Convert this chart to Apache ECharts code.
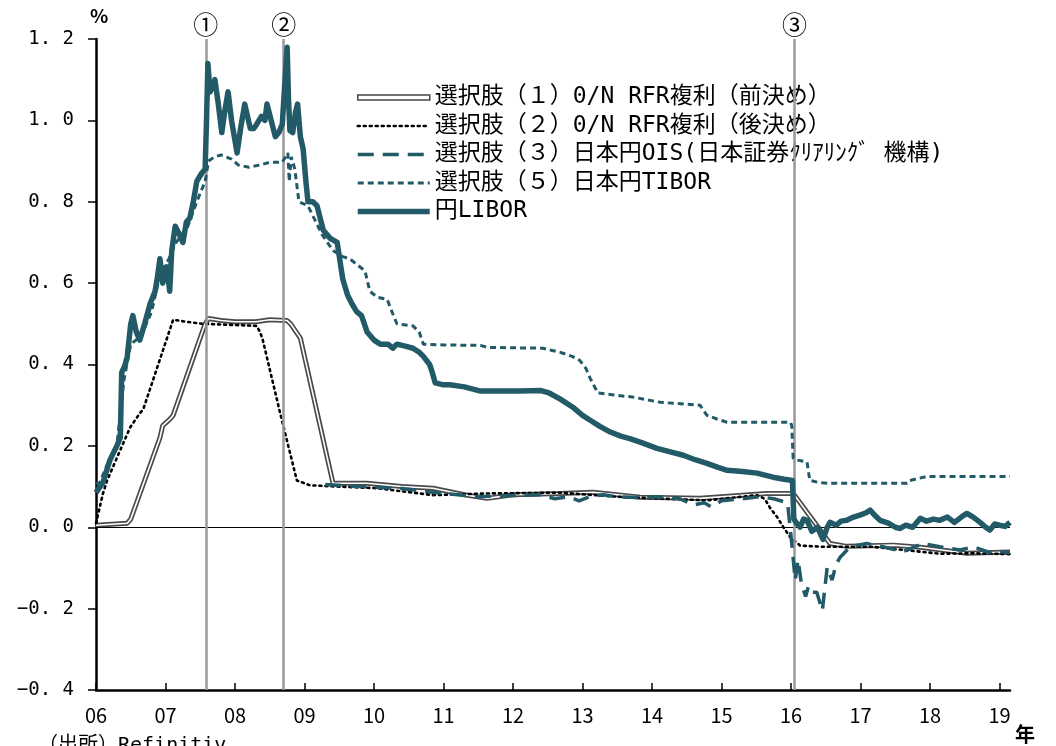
<!DOCTYPE html>
<html>
<head>
<meta charset="utf-8">
<script src="https://cdn.jsdelivr.net/npm/echarts@6/dist/echarts.min.js"></script>
<style>
  html, body { margin: 0; padding: 0; background: #fff; }
  #main { width: 1056px; height: 746px; }
</style>
</head>
<body>
<div id="main"></div>
<script>
// series values as [year, %]
const libor = [
  [2006.00,0.085],[2006.10,0.11],[2006.20,0.165],[2006.30,0.20],[2006.35,0.22],[2006.37,0.38],[2006.42,0.40],
  [2006.45,0.42],[2006.50,0.50],[2006.53,0.52],[2006.58,0.48],[2006.63,0.46],[2006.70,0.50],[2006.78,0.55],
  [2006.85,0.58],[2006.88,0.61],[2006.92,0.66],[2006.96,0.60],[2007.02,0.64],[2007.06,0.58],[2007.09,0.68],
  [2007.14,0.74],[2007.20,0.72],[2007.25,0.70],[2007.30,0.75],[2007.35,0.76],[2007.40,0.80],[2007.45,0.85],
  [2007.52,0.87],[2007.57,0.88],[2007.59,1.00],[2007.61,1.14],[2007.64,1.07],[2007.67,1.08],[2007.71,1.10],
  [2007.76,1.04],[2007.81,0.97],[2007.85,1.02],[2007.90,1.07],[2007.95,1.00],[2008.00,0.95],[2008.03,0.92],
  [2008.08,0.98],[2008.14,1.04],[2008.18,1.01],[2008.22,0.98],[2008.27,0.98],[2008.31,0.99],[2008.38,1.01],
  [2008.43,1.00],[2008.46,1.04],[2008.52,1.00],[2008.58,0.96],[2008.63,0.97],[2008.68,0.99],[2008.72,1.10],
  [2008.75,1.18],[2008.77,1.05],[2008.79,0.975],[2008.83,0.97],[2008.87,1.02],[2008.90,1.04],[2008.94,0.96],
  [2008.98,0.93],[2009.02,0.85],[2009.05,0.80],[2009.12,0.80],[2009.18,0.79],[2009.27,0.73],[2009.37,0.71],
  [2009.47,0.70],[2009.55,0.61],[2009.62,0.57],[2009.68,0.55],[2009.75,0.53],[2009.82,0.52],[2009.90,0.48],
  [2010.00,0.46],[2010.09,0.45],[2010.20,0.45],[2010.27,0.44],[2010.33,0.45],[2010.45,0.445],[2010.56,0.44],
  [2010.65,0.43],[2010.71,0.42],[2010.80,0.40],[2010.83,0.385],[2010.88,0.355],[2011.00,0.35],[2011.09,0.35],
  [2011.30,0.345],[2011.52,0.335],[2011.80,0.335],[2012.10,0.335],[2012.40,0.336],[2012.52,0.33],[2012.68,0.315],
  [2012.86,0.295],[2013.00,0.275],[2013.11,0.263],[2013.25,0.248],[2013.40,0.234],[2013.55,0.224],[2013.68,0.218],
  [2013.85,0.208],[2014.07,0.194],[2014.25,0.186],[2014.45,0.177],[2014.62,0.166],[2014.79,0.157],[2014.95,0.147],
  [2015.08,0.14],[2015.30,0.137],[2015.51,0.133],[2015.74,0.123],[2015.90,0.118],[2016.02,0.115],[2016.04,0.02],
  [2016.08,0.01],[2016.13,0.0],[2016.18,0.02],[2016.23,0.017],[2016.30,-0.01],[2016.38,0.0],[2016.46,-0.03],
  [2016.52,0.0],[2016.56,0.012],[2016.65,0.005],[2016.72,0.015],[2016.80,0.017],[2016.90,0.025],[2016.99,0.03],
  [2017.07,0.035],[2017.14,0.042],[2017.20,0.03],[2017.28,0.017],[2017.40,0.01],[2017.50,0.0],[2017.57,-0.003],
  [2017.65,0.005],[2017.75,0.0],[2017.86,0.022],[2017.95,0.015],[2018.05,0.02],[2018.14,0.017],[2018.25,0.025],
  [2018.35,0.012],[2018.45,0.025],[2018.53,0.034],[2018.62,0.025],[2018.72,0.012],[2018.80,0.0],[2018.86,-0.007],
  [2018.93,0.008],[2019.00,0.005],[2019.08,0.002],[2019.15,0.012]
];
const tibor = [
  [2006.00,0.108],[2006.05,0.108],[2006.15,0.15],[2006.30,0.20],[2006.40,0.36],[2006.50,0.45],[2006.65,0.47],
  [2006.80,0.53],[2006.92,0.62],[2007.05,0.66],[2007.15,0.70],[2007.30,0.73],[2007.45,0.80],[2007.57,0.85],
  [2007.62,0.90],[2007.70,0.91],[2007.80,0.915],[2007.95,0.905],[2008.05,0.89],[2008.20,0.885],[2008.35,0.89],
  [2008.50,0.897],[2008.68,0.897],[2008.76,0.92],[2008.78,0.85],[2008.81,0.91],[2008.86,0.88],[2008.92,0.80],
  [2009.05,0.79],[2009.25,0.72],[2009.41,0.68],[2009.55,0.665],[2009.65,0.66],[2009.87,0.63],[2009.94,0.58],
  [2010.05,0.565],[2010.19,0.56],[2010.28,0.52],[2010.33,0.50],[2010.56,0.495],[2010.65,0.48],[2010.71,0.45],
  [2011.00,0.448],[2011.53,0.447],[2011.63,0.442],[2012.43,0.44],[2012.55,0.435],[2012.68,0.43],[2012.85,0.42],
  [2012.96,0.41],[2013.05,0.39],[2013.11,0.366],[2013.22,0.33],[2013.45,0.325],[2013.72,0.32],[2014.12,0.307],
  [2014.69,0.30],[2014.75,0.285],[2014.79,0.275],[2014.95,0.265],[2015.08,0.258],[2015.99,0.258],[2016.01,0.25],
  [2016.03,0.17],[2016.10,0.165],[2016.23,0.16],[2016.27,0.115],[2016.40,0.11],[2016.52,0.108],[2017.67,0.108],
  [2017.71,0.115],[2017.96,0.125],[2019.15,0.125]
];
const ois = [
  [2009.30,0.105],[2009.80,0.10],[2010.40,0.095],[2010.90,0.085],[2011.50,0.075],[2012.00,0.078],[2012.40,0.08],
  [2012.60,0.07],[2012.80,0.075],[2012.95,0.065],[2013.10,0.075],[2013.30,0.08],[2013.50,0.075],[2013.80,0.073],
  [2014.10,0.075],[2014.40,0.07],[2014.60,0.055],[2014.75,0.06],[2014.85,0.05],[2015.00,0.065],[2015.30,0.07],
  [2015.55,0.075],[2015.75,0.07],[2015.95,0.06],[2016.01,-0.04],[2016.06,-0.13],[2016.10,-0.08],[2016.15,-0.14],
  [2016.21,-0.17],[2016.25,-0.145],[2016.30,-0.16],[2016.37,-0.16],[2016.45,-0.205],[2016.52,-0.098],
  [2016.59,-0.13],[2016.65,-0.09],[2016.71,-0.073],[2016.85,-0.048],[2017.09,-0.04],[2017.32,-0.048],
  [2017.61,-0.06],[2017.90,-0.04],[2018.14,-0.048],[2018.43,-0.056],[2018.62,-0.048],[2018.91,-0.065],
  [2019.00,-0.06],[2019.15,-0.062]
];
const rfrBefore = [
  [2006.00,0.005],[2006.45,0.01],[2006.50,0.02],[2006.92,0.22],[2006.96,0.25],[2007.06,0.265],[2007.11,0.275],
  [2007.57,0.50],[2007.62,0.513],[2007.80,0.508],[2008.00,0.505],[2008.30,0.505],[2008.50,0.51],[2008.75,0.508],
  [2008.80,0.50],[2008.94,0.465],[2009.41,0.108],[2009.90,0.108],[2010.40,0.10],[2010.85,0.096],[2011.30,0.08],
  [2011.63,0.071],[2012.00,0.08],[2012.68,0.083],[2013.15,0.086],[2013.83,0.074],[2014.69,0.071],[2015.65,0.083],
  [2016.00,0.083],[2016.05,0.079],[2016.23,0.037],[2016.42,-0.007],[2016.56,-0.04],[2016.80,-0.047],
  [2017.47,-0.044],[2017.86,-0.049],[2018.53,-0.064],[2019.15,-0.061]
];
const rfrAfter = [
  [2006.00,0.01],[2006.10,0.083],[2006.16,0.115],[2006.35,0.19],[2006.49,0.245],[2006.63,0.28],[2006.68,0.29],
  [2007.11,0.51],[2007.30,0.505],[2007.54,0.50],[2008.31,0.495],[2008.36,0.48],[2008.40,0.46],[2008.65,0.28],
  [2008.89,0.115],[2009.08,0.103],[2010.04,0.096],[2010.85,0.079],[2011.63,0.083],[2012.68,0.085],[2013.50,0.075],
  [2014.79,0.066],[2015.51,0.079],[2015.62,0.07],[2015.70,0.047],[2015.80,0.025],[2015.89,0.0],[2015.99,-0.025],
  [2016.13,-0.045],[2016.45,-0.048],[2017.17,-0.048],[2018.14,-0.065],[2018.62,-0.064],[2019.15,-0.066]
];
const events = [[2007.58, '①'], [2008.70, '②'], [2016.05, '③']];
const names = [
  '選択肢（１）0/N RFR複利（前決め）',
  '選択肢（２）0/N RFR複利（後決め）',
  '選択肢（３）日本円OIS(日本証券ｸﾘｱﾘﾝｸﾞ 機構)',
  '選択肢（５）日本円TIBOR',
  '円LIBOR'
];

const teal = '#225a68';
const font = '"DejaVu Sans Mono", "Noto Sans CJK JP", monospace';
const cjk = '"Noto Sans CJK JP", sans-serif';

let chart = echarts.init(document.getElementById('main'));
let option = {
  animation: false,
  backgroundColor: '#fff',
  textStyle: { fontFamily: font },
  grid: { left: 96, right: 46, top: 39, bottom: 56 },
  xAxis: {
    type: 'value',
    min: 2006,
    max: 2019.15,
    interval: 1,
    axisLine: { onZero: false, lineStyle: { color: '#000', width: 2.5 } },
    axisTick: { inside: true, length: 7, lineStyle: { color: '#000', width: 1.5 } },
    axisLabel: {
      margin: 15, fontSize: 20, color: '#000', fontFamily: cjk,
      showMaxLabel: false,
      formatter: v => Number.isInteger(v) ? String(v).slice(2) : ''
    },
    splitLine: { show: false }
  },
  yAxis: {
    type: 'value',
    min: -0.4,
    max: 1.2,
    interval: 0.2,
    axisLine: { show: true, lineStyle: { color: '#000', width: 2.5 } },
    axisTick: { show: true, length: 8, lineStyle: { color: '#000', width: 1.5 } },
    axisLabel: {
      margin: 22, fontSize: 19, color: '#000', fontFamily: font,
      formatter: v => v.toFixed(1).replace('.', '. ').replace('-', '−')
    },
    splitLine: { show: false }
  },
  legend: {
    orient: 'vertical',
    left: 351,
    top: 76,
    padding: [10, 20, 2, 4],
    backgroundColor: '#fff',
    itemWidth: 72,
    itemHeight: 14,
    itemGap: 5.5,
    itemStyle: { opacity: 0 },
    textStyle: { fontSize: 23, lineHeight: 22, color: '#000', fontFamily: font },
    data: [
      { name: names[0], icon: 'path://M0,0L72,0L72,5L0,5Z', itemStyle: { opacity: 1, color: '#fff', borderColor: '#444', borderWidth: 1.5 } },
      { name: names[1], lineStyle: { width: 2.6 } },
      { name: names[2], lineStyle: { width: 3.5 } },
      { name: names[3], lineStyle: { width: 3 } },
      { name: names[4], lineStyle: { width: 5.5 } }
    ]
  },
  graphic: [
    { type: 'text', left: 90, top: 6, style: { text: '%', fontSize: 19, fontWeight: 'bold', fill: '#000', fontFamily: cjk } },
    { type: 'text', left: 1015, top: 724, style: { text: '年', fontSize: 20, fontWeight: 'bold', fill: '#000', fontFamily: cjk } },
    { type: 'text', left: 38, top: 736, style: { text: '（出所）Refinitiv', fontSize: 20, fill: '#000', fontFamily: font } }
  ],
  series: [
    {
      name: names[0], type: 'line', data: rfrBefore, symbol: 'none', z: 3,
      lineStyle: { color: '#4a4a4a', width: 5 }, itemStyle: { color: '#4a4a4a' },
      markLine: {
        silent: true, symbol: 'none',
        label: { show: false },
        lineStyle: { color: '#000', width: 1, type: 'solid' },
        data: [{ yAxis: 0 }]
      }
    },
    {
      name: 'rfrBeforeInner', type: 'line', data: rfrBefore, symbol: 'none', z: 3,
      lineStyle: { color: '#fff', width: 1.6 }
    },
    {
      name: names[1], type: 'line', data: rfrAfter, symbol: 'none', z: 4,
      lineStyle: { color: '#000', width: 2.6, type: [2, 4], cap: 'round' }, itemStyle: { color: '#000' }
    },
    {
      name: names[2], type: 'line', data: ois, symbol: 'none', z: 5,
      lineStyle: { color: teal, width: 3.5, type: [16, 9] }, itemStyle: { color: teal }
    },
    {
      name: names[3], type: 'line', data: tibor, symbol: 'none', z: 5,
      lineStyle: { color: teal, width: 3, type: [6, 4] }, itemStyle: { color: teal }
    },
    {
      name: names[4], type: 'line', data: libor, symbol: 'none', z: 6,
      lineStyle: { color: teal, width: 5.5, join: 'round' }, itemStyle: { color: teal }
    },
    {
      name: 'events', type: 'line', data: [], z: 2,
      markLine: {
        silent: true, symbol: 'none',
        lineStyle: { color: '#999', width: 2.5, type: 'solid' },
        label: { show: true, position: 'end', distance: 2, fontSize: 25, color: '#000', fontFamily: cjk, formatter: p => p.name },
        data: events.map(e => ({ name: e[1], xAxis: e[0] }))
      }
    }
  ]
};
chart.setOption(option);
</script>
</body>
</html>
